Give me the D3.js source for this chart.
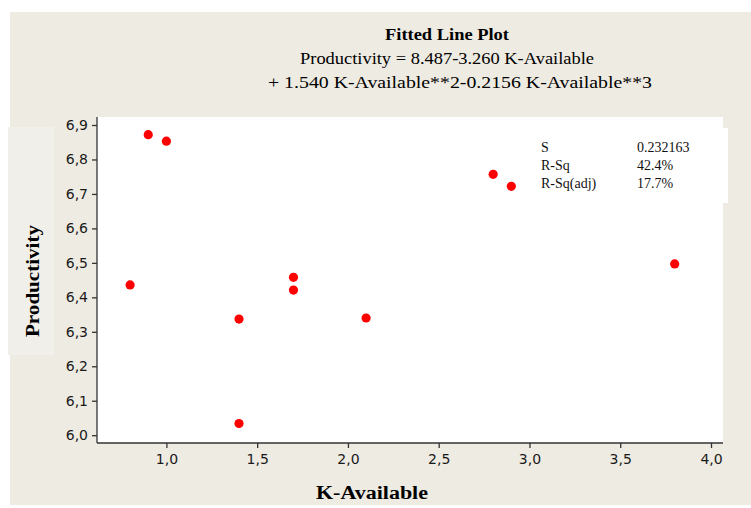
<!DOCTYPE html>
<html>
<head>
<meta charset="utf-8">
<script src="https://cdn.jsdelivr.net/npm/d3@7"></script>
<style>
  body { margin: 0; background: #fff; }
  svg { display: block; }
</style>
</head>
<body>
<div id="chart"></div>
<script>
// data
const kAvailable = [0.8, 0.9, 1.0, 1.4, 1.4, 1.7, 1.7, 2.1, 2.8, 2.9, 3.8];
const productivity = [6.436, 6.872, 6.853, 6.337, 6.034, 6.458, 6.421, 6.340, 6.757, 6.722, 6.497];
const xTicks = [1.0, 1.5, 2.0, 2.5, 3.0, 3.5, 4.0];
const yTicks = [6.0, 6.1, 6.2, 6.3, 6.4, 6.5, 6.6, 6.7, 6.8, 6.9];
const titleLines = ['Productivity = 8.487-3.260 K-Available', '+ 1.540 K-Available**2-0.2156 K-Available**3'];
const statNames = ['S', 'R-Sq', 'R-Sq(adj)'];
const statValues = ['0.232163', '42.4%', '17.7%'];

const W = 751, H = 508;
const plot = { left: 97, right: 723, top: 117, bottom: 443 };

const svg = d3.select('#chart').append('svg')
    .attr('width', W)
    .attr('height', H);

// backgrounds
svg.append('rect').attr('x', 10).attr('y', 12).attr('width', W - 10).attr('height', 493).attr('fill', '#eeebe2');
svg.append('rect').attr('x', 8).attr('y', 127).attr('width', 46).attr('height', 228).attr('fill', '#f1efe9');
svg.append('rect').attr('x', plot.left).attr('y', plot.top)
    .attr('width', plot.right - plot.left).attr('height', plot.bottom - plot.top).attr('fill', '#fff');
svg.append('rect').attr('x', 530).attr('y', 128).attr('width', 198).attr('height', 75).attr('fill', '#fff');

const x = d3.scaleLinear().domain([1.0, 4.0]).range([166.4, 711]);
const y = d3.scaleLinear().domain([6.0, 6.9]).range([435.2, 125]);

const comma = d => d.toFixed(1).replace('.', ',');

const xAxis = svg.append('g')
    .attr('transform', 'translate(0,' + plot.bottom + ')')
    .call(d3.axisBottom(x).tickValues(xTicks).tickFormat(comma).tickSizeInner(5).tickSizeOuter(0));
xAxis.select('.domain').attr('d', 'M' + plot.left + ',0H' + plot.right);

const yAxis = svg.append('g')
    .attr('transform', 'translate(' + plot.left + ',0)')
    .call(d3.axisLeft(y).tickValues(yTicks).tickFormat(comma).tickSizeInner(5).tickSizeOuter(0));
yAxis.select('.domain').attr('d', 'M0,' + plot.top + 'V' + plot.bottom);

svg.selectAll('.tick text')
    .attr('font-family', 'DejaVu Sans, sans-serif')
    .attr('font-size', 14)
    .attr('fill', '#1a1a1a');
xAxis.selectAll('.tick text').attr('dy', '0.95em');
yAxis.selectAll('.tick text').attr('x', -9);
svg.selectAll('.domain, .tick line').attr('stroke', '#333').attr('stroke-width', 1.3);

// points
svg.append('g').selectAll('circle')
    .data(kAvailable)
    .join('circle')
    .attr('cx', d => x(d))
    .attr('cy', (d, i) => y(productivity[i]))
    .attr('r', 4.6)
    .attr('fill', '#ff0000');

// titles
const serif = 'Liberation Serif, Times New Roman, serif';
svg.append('text').attr('x', 447).attr('y', 40).attr('text-anchor', 'middle')
    .attr('font-family', serif).attr('font-weight', 'bold').attr('font-size', 16)
    .attr('textLength', 124).attr('lengthAdjust', 'spacingAndGlyphs')
    .text('Fitted Line Plot');
svg.selectAll('.sub').data(titleLines).join('text')
    .attr('class', 'sub')
    .attr('x', (d, i) => i === 0 ? 447 : 460)
    .attr('y', (d, i) => 64 + i * 24)
    .attr('text-anchor', 'middle')
    .attr('font-family', serif).attr('font-size', 16)
    .attr('textLength', (d, i) => i === 0 ? 294 : 384)
    .attr('lengthAdjust', 'spacingAndGlyphs')
    .text(d => d);

// axis titles
svg.append('text').attr('x', 372).attr('y', 499).attr('text-anchor', 'middle')
    .attr('font-family', serif).attr('font-weight', 'bold').attr('font-size', 18)
    .attr('textLength', 112).attr('lengthAdjust', 'spacingAndGlyphs')
    .text('K-Available');
svg.append('text').attr('transform', 'translate(39,281) rotate(-90)').attr('text-anchor', 'middle')
    .attr('font-family', serif).attr('font-weight', 'bold').attr('font-size', 18)
    .attr('textLength', 112).attr('lengthAdjust', 'spacingAndGlyphs')
    .text('Productivity');

// stats box
const stats = svg.append('g').attr('font-family', serif).attr('font-size', 14).attr('fill', '#111');
stats.selectAll('.sn').data(statNames).join('text')
    .attr('x', 541).attr('y', (d, i) => 152 + i * 18).text(d => d);
stats.selectAll('.sv').data(statValues).join('text')
    .attr('x', 637).attr('y', (d, i) => 152 + i * 18).text(d => d);
</script>
</body>
</html>
